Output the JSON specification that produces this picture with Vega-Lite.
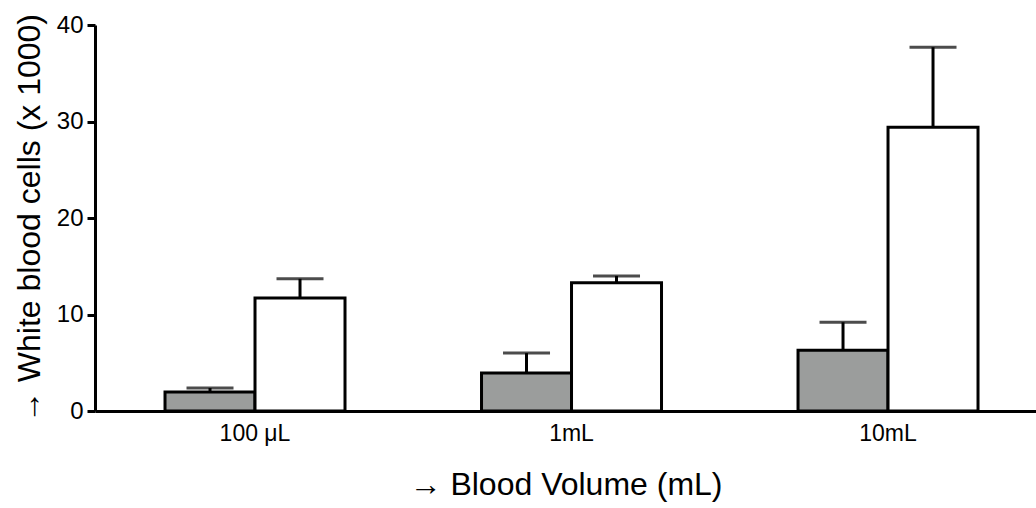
{
  "$schema": "https://vega.github.io/schema/vega-lite/v6.json",
  "width": 941,
  "height": 386,
  "autosize": "none",
  "padding": {"left": 95, "top": 25, "right": 0, "bottom": 97},
  "background": "white",
  "config": {"view": {"stroke": null}, "font": "Liberation Sans"},
  "data": {
    "values": [
      {"volume": "100 μL", "condition": "A", "value": 1.97, "upper": 2.38},
      {"volume": "100 μL", "condition": "B", "value": 11.7, "upper": 13.7},
      {"volume": "1mL", "condition": "A", "value": 3.94, "upper": 6.0},
      {"volume": "1mL", "condition": "B", "value": 13.3, "upper": 14.0},
      {"volume": "10mL", "condition": "A", "value": 6.3, "upper": 9.2},
      {"volume": "10mL", "condition": "B", "value": 29.4, "upper": 37.7}
    ]
  },
  "encoding": {
    "x": {
      "field": "volume",
      "type": "nominal",
      "sort": ["100 μL", "1mL", "10mL"],
      "scale": {"paddingInner": 0.4313, "paddingOuter": 0.2022, "align": 0.547},
      "title": "→ Blood Volume (mL)",
      "axis": {
        "domainWidth": 3,
        "domainColor": "black",
        "ticks": false,
        "labelAngle": 0,
        "labelFontSize": 23,
        "labelColor": "black",
        "labelPadding": 11,
        "titleFontSize": 32,
        "titleFontWeight": "normal",
        "titleColor": "black",
        "titlePadding": 24
      }
    },
    "xOffset": {
      "field": "condition",
      "type": "nominal",
      "scale": {"paddingInner": 0, "paddingOuter": 0}
    }
  },
  "layer": [
    {
      "mark": {"type": "bar", "stroke": "black", "strokeWidth": 3},
      "encoding": {
        "y": {
          "field": "value",
          "type": "quantitative",
          "scale": {"domain": [0, 40]},
          "title": "→ White blood cells (x 1000)",
          "axis": {
            "values": [0, 10, 20, 30, 40],
            "grid": false,
            "domainWidth": 3,
            "domainColor": "black",
            "tickWidth": 3,
            "tickSize": 8,
            "tickColor": "black",
            "labelFontSize": 24,
            "labelColor": "black",
            "labelPadding": 4,
            "titleFontSize": 32,
            "titleFontWeight": "normal",
            "titleColor": "black",
            "titlePadding": 10
          }
        },
        "fill": {
          "field": "condition",
          "type": "nominal",
          "scale": {"domain": ["A", "B"], "range": ["#9b9d9c", "#ffffff"]},
          "legend": null
        }
      }
    },
    {
      "mark": {"type": "rule", "strokeWidth": 3, "color": "black"},
      "encoding": {
        "y": {"field": "value", "type": "quantitative"},
        "y2": {"field": "upper"}
      }
    },
    {
      "mark": {"type": "tick", "thickness": 3, "size": 47, "color": "black"},
      "encoding": {
        "y": {"field": "upper", "type": "quantitative"}
      }
    }
  ]
}
